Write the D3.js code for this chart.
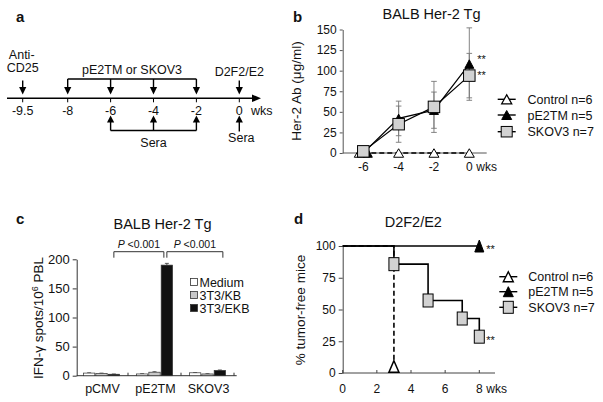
<!DOCTYPE html>
<html><head><meta charset="utf-8">
<script src="https://cdn.jsdelivr.net/npm/d3@7"></script>
<style>
body{margin:0;background:#fff}
svg{display:block}
text{font-family:"Liberation Sans",Arial,Helvetica,sans-serif;fill:#111}
</style>
</head><body>
<svg id="fig" width="603" height="402"></svg>
<script>
// ---------- Panel a: schedule ----------
const timelineTicks = [-9.5, -8, -6, -4, -2, 0];
const timelineTickLabels = ["-9.5", "-8", "-6", "-4", "-2", "0"];
const antiCD25Week = -9.5;
const immunizationWeeks = [-8, -6, -4, -2];
const seraWeeks = [-6, -4, -2];
const challengeWeek = 0;

// ---------- Panel b: Her-2 antibody ----------
const abWeeks = [-6, -4, -2, 0];
const abTickLabels = ["-6", "-4", "-2", "0"];
const abControl = [0, 0, 0, 0];
const abPE2TM = [0, 42, 52, 108];
const abPE2TMErr = [0, 21, 22, 44];
const abSKOV3 = [2, 35, 56, 94];
const abSKOV3Err = [0, 22, 31, 27];
const abYTicks = [0, 25, 50, 75, 100, 125, 150];

// ---------- Panel c: IFN-gamma ELISPOT ----------
const groups = ["pCMV", "pE2TM", "SKOV3"];
const stimuli = ["Medium", "3T3/KB", "3T3/EKB"];
const spotsMedium = [4.5, 3, 5];
const spotsKB = [4, 6, 3];
const spotsEKB = [2.5, 190, 9];
const spotsMediumErr = [0.4, 0.4, 0.4];
const spotsKBErr = [0.4, 0.8, 0.4];
const spotsEKBErr = [0.4, 3, 0.8];
const spotsYTicks = [0, 50, 100, 150, 200];

// ---------- Panel d: tumor-free survival ----------
const tfControlWeeks = [0, 3];
const tfControl = [100, 0];
const tfPE2TMWeeks = [0, 8];
const tfPE2TM = [100, 100];
const tfSKOV3Weeks = [0, 3, 5, 7, 8];
const tfSKOV3 = [100, 85.7, 57.1, 42.9, 28.6];
const tfXTicks = [0, 2, 4, 6, 8];
const tfYTicks = [0, 25, 50, 75, 100];

const legendLabels = ["Control n=6", "pE2TM n=5", "SKOV3 n=7"];

const svg = d3.select("#fig");
const GRAY = "#d2d2d2";

function tri(g, cx, cy, w, h, fill, sw) {
  g.append("path")
    .attr("d", `M${cx},${cy - h / 2}L${cx + w / 2},${cy + h / 2}L${cx - w / 2},${cy + h / 2}Z`)
    .attr("fill", fill).attr("stroke", "#000").attr("stroke-width", sw || 1.3)
    .attr("stroke-linejoin", "miter");
}
function sq(g, cx, cy, w, h) {
  g.append("rect").attr("x", cx - w / 2).attr("y", cy - h / 2).attr("width", w).attr("height", h)
    .attr("fill", GRAY).attr("stroke", "#000").attr("stroke-width", 1);
}
function txt(g, x, y, s, size, anchor, extra) {
  const t = g.append("text").attr("x", x).attr("y", y).attr("font-size", size)
    .attr("text-anchor", anchor || "start").text(s);
  if (extra) extra(t);
  return t;
}

// panel letters
[["a", 16, 22], ["b", 293, 22], ["c", 16, 224], ["d", 294, 224]].forEach(([l, x, y]) =>
  txt(svg, x, y, l, 15, "start", t => t.attr("font-weight", "bold")));

// =============== Panel a ===============
{
  const g = svg.append("g");
  const x = d3.scaleLinear().domain([-9.5, -8, 0]).range([22.7, 67.7, 239.3]);
  const ay = 98.3;
  g.append("line").attr("x1", 7).attr("x2", 254).attr("y1", ay).attr("y2", ay)
    .attr("stroke", "#000").attr("stroke-width", 1.4);
  g.append("path").attr("d", `M252,${ay - 3.8}L261,${ay}L252,${ay + 3.8}Z`).attr("fill", "#000");
  timelineTicks.forEach((w, i) => {
    g.append("line").attr("x1", x(w)).attr("x2", x(w)).attr("y1", ay).attr("y2", ay + 4)
      .attr("stroke", "#000").attr("stroke-width", 1);
    txt(g, x(w), 114.5, timelineTickLabels[i], 12.5, "middle");
  });
  txt(g, 251, 114.5, "wks", 12.5, "start");

  const downArrow = (xx, y0) => {
    g.append("line").attr("x1", xx).attr("x2", xx).attr("y1", y0).attr("y2", 88)
      .attr("stroke", "#000").attr("stroke-width", 1.4);
    g.append("path").attr("d", `M${xx - 3.6},87L${xx + 3.6},87L${xx},94.5Z`).attr("fill", "#000");
  };
  const upArrow = (xx, y1) => {
    g.append("line").attr("x1", xx).attr("x2", xx).attr("y1", 121).attr("y2", y1)
      .attr("stroke", "#000").attr("stroke-width", 1.4);
    g.append("path").attr("d", `M${xx - 3.6},122.5L${xx + 3.6},122.5L${xx},115.5Z`).attr("fill", "#000");
  };
  // anti-CD25
  downArrow(x(antiCD25Week), 80.5);
  txt(g, x(antiCD25Week) - 1, 58.5, "Anti-", 12.5, "middle");
  txt(g, x(antiCD25Week), 71.5, "CD25", 12.5, "middle");
  // immunizations
  const bY = 79;
  g.append("line").attr("x1", x(d3.min(immunizationWeeks))).attr("x2", x(d3.max(immunizationWeeks)))
    .attr("y1", bY).attr("y2", bY).attr("stroke", "#000").attr("stroke-width", 1.4);
  immunizationWeeks.forEach(w => downArrow(x(w), bY));
  txt(g, (x(d3.min(immunizationWeeks)) + x(d3.max(immunizationWeeks))) / 2, 74, "pE2TM or SKOV3", 12.5, "middle");
  // challenge
  downArrow(x(challengeWeek), 80.5);
  txt(g, x(challengeWeek), 76, "D2F2/E2", 12.5, "middle");
  // sera
  const sY = 130.5;
  g.append("line").attr("x1", x(d3.min(seraWeeks))).attr("x2", x(d3.max(seraWeeks)))
    .attr("y1", sY).attr("y2", sY).attr("stroke", "#000").attr("stroke-width", 1.4);
  seraWeeks.forEach(w => upArrow(x(w), sY));
  txt(g, (x(d3.min(seraWeeks)) + x(d3.max(seraWeeks))) / 2, 147, "Sera", 12.5, "middle");
  upArrow(x(challengeWeek), 131.5);
  txt(g, x(challengeWeek) + 2, 142, "Sera", 12.5, "middle");
}

// =============== Panel b ===============
{
  const g = svg.append("g");
  const x = d3.scaleLinear().domain([-6, 0]).range([363.3, 469.3]);
  const y = d3.scaleLinear().domain([0, 150]).range([153, 29.5]);
  const x0 = 342.7, x1 = 486.7;
  txt(g, 431.5, 19, "BALB Her-2 Tg", 14.5, "middle");
  // axes
  const ya = g.append("g").attr("transform", `translate(${x0},0)`)
    .call(d3.axisLeft(y).tickValues(abYTicks).tickSize(3).tickPadding(3).tickSizeOuter(0));
  ya.select(".domain").attr("stroke", "#555");
  ya.selectAll(".tick line").attr("stroke", "#555");
  ya.selectAll("text").attr("font-size", 12).attr("font-family", "Liberation Sans, Arial, sans-serif").attr("fill", "#111");
  g.append("line").attr("x1", x0).attr("x2", x1).attr("y1", y(0)).attr("y2", y(0)).attr("stroke", "#555");
  abWeeks.forEach((w, i) => txt(g, x(w), 171, abTickLabels[i], 12, "middle"));
  txt(g, x(0) + 7, 171, "wks", 12, "start");
  txt(g, 0, 0, "Her-2 Ab (\u03bcg/ml)", 13.5, "middle",
    t => t.attr("transform", "translate(301,91) rotate(-90)"));

  // error bars
  const eb = (vals, errs) => vals.forEach((v, i) => {
    if (!errs[i]) return;
    const xx = x(abWeeks[i]);
    g.append("line").attr("x1", xx).attr("x2", xx).attr("y1", y(v - errs[i])).attr("y2", y(v + errs[i]))
      .attr("stroke", "#777").attr("stroke-width", 0.9);
    [v - errs[i], v + errs[i]].forEach(e => g.append("line").attr("x1", xx - 2.8).attr("x2", xx + 2.8)
      .attr("y1", y(e)).attr("y2", y(e)).attr("stroke", "#777").attr("stroke-width", 0.9));
  });
  eb(abPE2TM, abPE2TMErr);
  eb(abSKOV3, abSKOV3Err);

  const line = d3.line().x((d, i) => x(abWeeks[i])).y(d => y(d));
  g.append("path").attr("d", line(abControl)).attr("fill", "none").attr("stroke", "#000")
    .attr("stroke-width", 1.6).attr("stroke-dasharray", "5,3");
  g.append("path").attr("d", line(abPE2TM)).attr("fill", "none").attr("stroke", "#000").attr("stroke-width", 1.2);
  g.append("path").attr("d", line(abSKOV3)).attr("fill", "none").attr("stroke", "#000").attr("stroke-width", 1.2);

  abControl.forEach((v, i) => tri(g, x(abWeeks[i]) - (i === 0 ? 4 : 0), y(v), 10, 8.5, "#fff", 1));
  abPE2TM.forEach((v, i) => tri(g, x(abWeeks[i]) + (i === 0 ? 4.5 : 0), y(v), 9, 8.5, "#000", 1));
  abSKOV3.forEach((v, i) => sq(g, x(abWeeks[i]), y(v), 11.5, 11.5));

  const last = abWeeks.length - 1;
  txt(g, x(0) + 8, y(abPE2TM[last]) - 1, "**", 11, "start");
  txt(g, x(0) + 8, y(abSKOV3[last]) + 3, "**", 11, "start");

  // legend
  const rows = [99.3, 115, 131.7];
  const lx = 506.7;
  rows.forEach((ry, i) => {
    g.append("line").attr("x1", lx - 9).attr("x2", lx + 9).attr("y1", ry).attr("y2", ry)
      .attr("stroke", "#000").attr("stroke-width", 1.4);
    if (i === 0) tri(g, lx, ry, 10, 9, "#fff", 1.3);
    if (i === 1) tri(g, lx, ry, 10, 9, "#000", 1);
    if (i === 2) sq(g, lx, ry, 11, 10.5);
    txt(g, 527.5, ry + 4.5, legendLabels[i], 12.5, "start");
  });
}

// =============== Panel c ===============
{
  const g = svg.append("g");
  const y = d3.scaleLinear().domain([0, 200]).range([375.7, 259.3]);
  const x = d3.scaleBand().domain(groups).range([75, 234]).paddingInner(0.3).paddingOuter(0.15);
  const xs = d3.scaleBand().domain(stimuli).range([0, x.bandwidth()]);
  const x0 = 76.7, x1 = 236.7;
  txt(g, 162.5, 228.5, "BALB Her-2 Tg", 14.5, "middle");
  const ya = g.append("g").attr("transform", `translate(${x0},0)`)
    .call(d3.axisLeft(y).tickValues(spotsYTicks).tickSize(4).tickPadding(3).tickSizeOuter(0));
  ya.select(".domain").attr("stroke", "#333");
  ya.selectAll(".tick line").attr("stroke", "#333");
  ya.selectAll("text").attr("font-size", 13).attr("font-family", "Liberation Sans, Arial, sans-serif").attr("fill", "#111");
  g.append("line").attr("x1", x0).attr("x2", x1).attr("y1", y(0)).attr("y2", y(0)).attr("stroke", "#333");
  // separator ticks
  groups.forEach((gr, i) => {
    const bx = x(gr) + x.bandwidth() + x.step() * x.paddingInner() / 2;
    g.append("line").attr("x1", bx).attr("x2", bx).attr("y1", y(0)).attr("y2", y(0) - 3).attr("stroke", "#333");
  });
  groups.forEach(gr => txt(g, x(gr) + x.bandwidth() / 2 + 1, 393, gr, 12.5, "middle"));
  txt(g, 0, 0, "", 13.5, "middle", t => {
    t.attr("transform", "translate(43,318) rotate(-90)");
    t.append("tspan").text("IFN-\u03b3 spots/10");
    t.append("tspan").attr("font-size", 9).attr("dy", -5).text("6");
    t.append("tspan").attr("dy", 5).text(" PBL");
  });

  const series = [spotsMedium, spotsKB, spotsEKB];
  const errs = [spotsMediumErr, spotsKBErr, spotsEKBErr];
  const fills = ["#fff", "#c8c8c8", "#111"];
  stimuli.forEach((s, si) => {
    groups.forEach((gr, gi) => {
      const v = series[si][gi];
      const bx = x(gr) + xs(s);
      const cx = bx + xs.bandwidth() / 2;
      g.append("line").attr("x1", cx).attr("x2", cx).attr("y1", y(v)).attr("y2", y(v + errs[si][gi]))
        .attr("stroke", "#333").attr("stroke-width", 0.8);
      g.append("line").attr("x1", cx - 2).attr("x2", cx + 2).attr("y1", y(v + errs[si][gi])).attr("y2", y(v + errs[si][gi]))
        .attr("stroke", "#333").attr("stroke-width", 0.8);
      g.append("rect").attr("x", bx + 0.5).attr("y", y(v)).attr("width", xs.bandwidth() - 1)
        .attr("height", y(0) - y(v)).attr("fill", fills[si]).attr("stroke", "#333").attr("stroke-width", 0.7);
    });
  });

  // significance brackets
  const ekbC = gr => x(gr) + xs("3T3/EKB") + xs.bandwidth() / 2;
  const bY = 251.7;
  const bracket = (xa, xb) => g.append("path")
    .attr("d", `M${xa},${bY + 6}V${bY}H${xb}V${bY + 6}`).attr("fill", "none").attr("stroke", "#333").attr("stroke-width", 1);
  const pairs = [[ekbC("pCMV"), ekbC("pE2TM") - 3], [ekbC("pE2TM") + 0, ekbC("SKOV3") + 3]];
  pairs.forEach(([a, b]) => {
    bracket(a, b);
    const t = txt(g, (a + b) / 2, 248.3, "", 10.5, "middle");
    t.append("tspan").attr("font-style", "italic").text("P");
    t.append("tspan").text(" <0.001");
  });

  // legend
  const rows = [286.5, 299.5, 312.5];
  rows.forEach((ry, i) => {
    g.append("rect").attr("x", 190.5).attr("y", ry - 8).attr("width", 7).attr("height", 7)
      .attr("fill", fills[i]).attr("stroke", "#333").attr("stroke-width", 0.8);
    txt(g, 199.5, ry, stimuli[i], 12.5, "start");
  });
}

// =============== Panel d ===============
{
  const g = svg.append("g");
  const x = d3.scaleLinear().domain([0, 8]).range([342.7, 479.3]);
  const y = d3.scaleLinear().domain([0, 100]).range([373, 246]);
  const x1 = 495;
  txt(g, 413.3, 226.5, "D2F2/E2", 14.5, "middle");
  const ya = g.append("g").attr("transform", `translate(${x(0)},0)`)
    .call(d3.axisLeft(y).tickValues(tfYTicks).tickSize(4).tickPadding(3).tickSizeOuter(0));
  ya.select(".domain").attr("stroke", "#444");
  ya.selectAll(".tick line").attr("stroke", "#444");
  ya.selectAll("text").attr("font-size", 12).attr("font-family", "Liberation Sans, Arial, sans-serif").attr("fill", "#111");
  g.append("line").attr("x1", x(0)).attr("x2", x1).attr("y1", y(0)).attr("y2", y(0)).attr("stroke", "#444");
  tfXTicks.forEach(w => {
    g.append("line").attr("x1", x(w)).attr("x2", x(w)).attr("y1", y(0)).attr("y2", y(0) - 3).attr("stroke", "#444");
    txt(g, x(w), 392.5, String(w), 12, "middle");
  });
  txt(g, x(8) + 7, 392.5, "wks", 12, "start");
  txt(g, 0, 0, "% tumor-free mice", 13.5, "middle",
    t => t.attr("transform", "translate(305,310) rotate(-90)"));

  const step = (ws) => d3.line().curve(d3.curveStepAfter).x((d, i) => x(ws[i])).y(d => y(d));
  g.append("path").attr("d", step(tfControlWeeks)(tfControl)).attr("fill", "none").attr("stroke", "#000")
    .attr("stroke-width", 1.6).attr("stroke-dasharray", "5,3");
  g.append("path").attr("d", step(tfPE2TMWeeks)(tfPE2TM)).attr("fill", "none").attr("stroke", "#000").attr("stroke-width", 1.6);
  g.append("path").attr("d", step(tfSKOV3Weeks)(tfSKOV3)).attr("fill", "none").attr("stroke", "#000").attr("stroke-width", 1.6);

  const ctl = tfControl.length - 1;
  tri(g, x(tfControlWeeks[ctl]), Math.min(y(tfControl[ctl]), y(0) - 6.5), 10, 11.5, "#fff", 1.5);
  const pl = tfPE2TM.length - 1;
  tri(g, x(tfPE2TMWeeks[pl]), y(tfPE2TM[pl]), 9, 12, "#000", 1);
  tfSKOV3.forEach((v, i) => { if (i > 0) sq(g, x(tfSKOV3Weeks[i]), y(v), 10, 13); });
  const sl = tfSKOV3.length - 1;
  txt(g, x(8) + 7, y(tfPE2TM[pl]) + 7, "**", 11, "start");
  txt(g, x(8) + 7, y(tfSKOV3[sl]) + 7, "**", 11, "start");

  const rows = [276.7, 291.7, 307.3];
  const lx = 508.3;
  rows.forEach((ry, i) => {
    g.append("line").attr("x1", lx - 9).attr("x2", lx + 9).attr("y1", ry).attr("y2", ry)
      .attr("stroke", "#000").attr("stroke-width", 1.4);
    if (i === 0) tri(g, lx, ry, 10, 10, "#fff", 1.4);
    if (i === 1) tri(g, lx, ry, 10, 10, "#000", 1);
    if (i === 2) sq(g, lx, ry, 10, 12);
    txt(g, 528.3, ry + 4.5, legendLabels[i], 12.5, "start");
  });
}
</script>
</body></html>
